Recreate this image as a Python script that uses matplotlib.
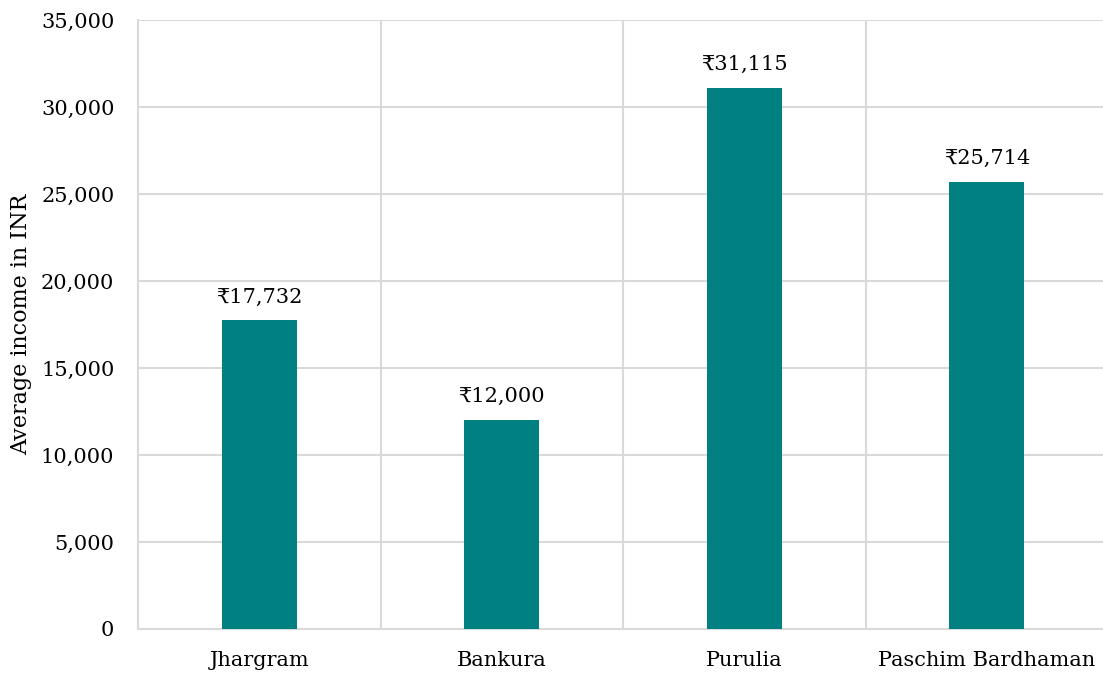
import matplotlib
matplotlib.use("Agg")
import matplotlib.pyplot as plt
from matplotlib.ticker import FuncFormatter, MultipleLocator

districts = ["Jhargram", "Bankura", "Purulia", "Paschim Bardhaman"]
avg_income = [17732, 12000, 31115, 25714]

plt.rcParams["font.family"] = ["DejaVu Serif", "DejaVu Sans"]

fig = plt.figure(figsize=(11.03, 6.75), dpi=100)
# plot area runs slightly past the right edge of the canvas
ax = fig.add_axes([138 / 1103, 1 - 629 / 675, 970 / 1103, 609 / 675])

x = range(len(districts))
bars = ax.bar(x, avg_income, width=0.31, color="#008080", zorder=3)

ax.set_xlim(-0.5, len(districts) - 0.5)
ax.set_ylim(0, 35000)
ax.yaxis.set_major_locator(MultipleLocator(5000))
ax.yaxis.set_major_formatter(FuncFormatter(lambda v, p: f"{int(v):,}"))

ax.set_xticks(list(x))
ax.set_xticklabels(districts)
ax.set_xticks([i + 0.5 for i in x][:-1], minor=True)
ax.tick_params(axis="both", which="both", length=0, labelsize=15)
ax.tick_params(axis="y", pad=17)
ax.tick_params(axis="x", pad=16)

ax.grid(axis="y", which="major", color="#d9d9d9", linewidth=1.5, zorder=0)
ax.grid(axis="x", which="minor", color="#d9d9d9", linewidth=1.5, zorder=0)
ax.grid(axis="x", which="major", visible=False)

for side in ["top", "right"]:
    ax.spines[side].set_visible(False)
for side in ["left", "bottom"]:
    ax.spines[side].set_color("#d9d9d9")
    ax.spines[side].set_linewidth(1.5)

ax.set_ylabel("Average income in INR", fontsize=16, labelpad=6)

for rect, val in zip(bars, avg_income):
    ax.annotate(f"₹{val:,}", (rect.get_x() + rect.get_width() / 2, val),
                xytext=(0, 10), textcoords="offset points",
                ha="center", va="bottom", fontsize=15)

fig.savefig("out.png", dpi=100)
